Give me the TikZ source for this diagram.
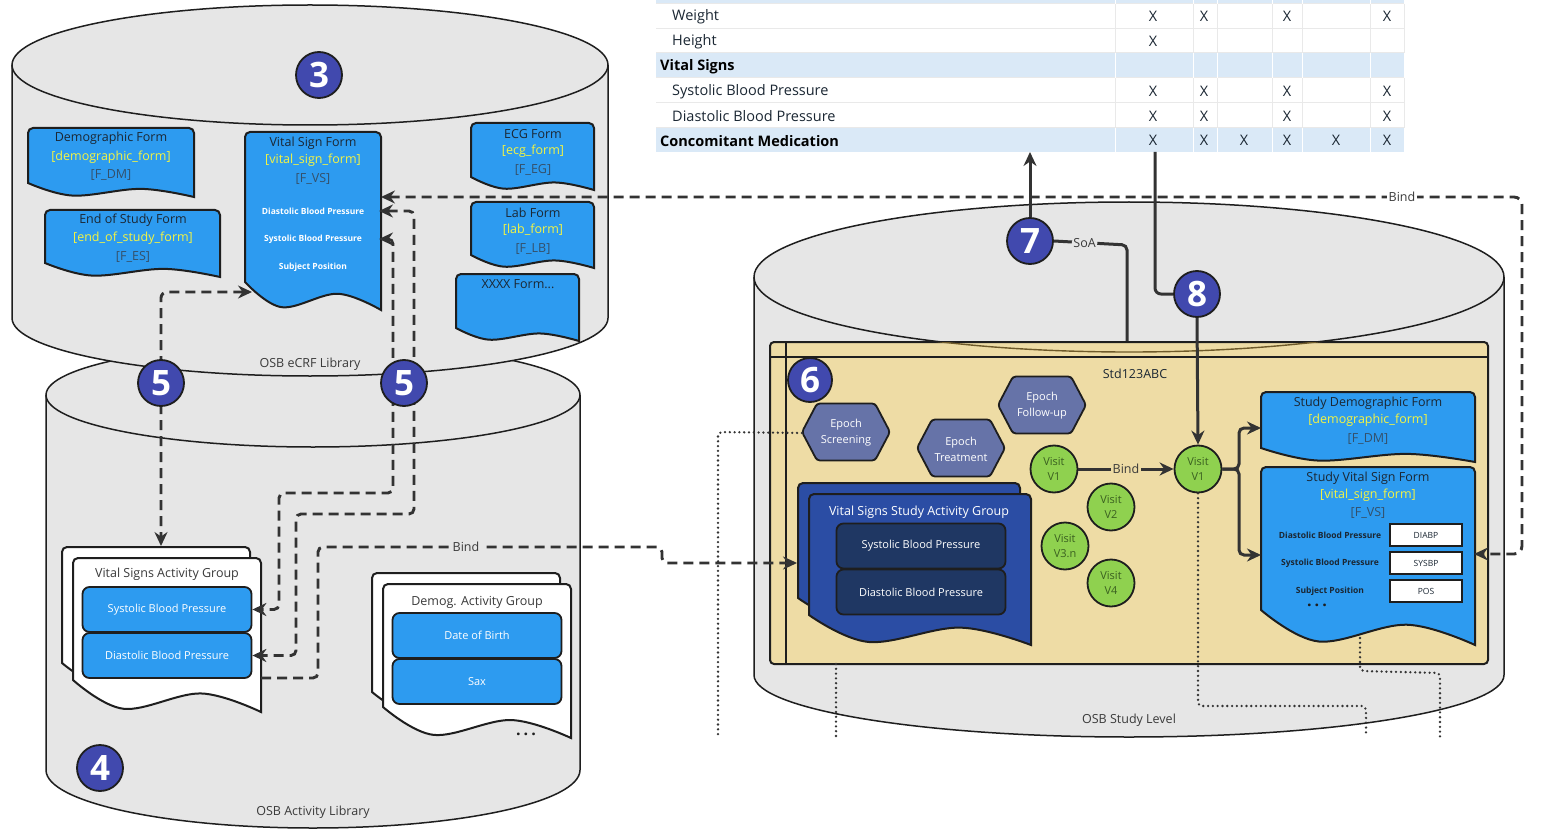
\documentclass[tikz,border=0pt]{standalone}
\usepackage{fontspec}
\setmainfont{Open Sans}
\usetikzlibrary{arrows.meta,shapes.geometric}
\definecolor{ink}{HTML}{1E1E1E}
\definecolor{linegray}{HTML}{333333}
\definecolor{cylfill}{HTML}{E6E6E6}
\definecolor{formblue}{HTML}{2D9BF0}
\definecolor{codeyellow}{HTML}{F4F442}
\definecolor{titletxt}{HTML}{1B2733}
\definecolor{codetxt}{HTML}{34506A}
\definecolor{badgeblue}{HTML}{4149AE}
\definecolor{epochfill}{HTML}{6673A8}
\definecolor{visitgreen}{HTML}{8FD14F}
\definecolor{visittxt}{HTML}{3A6020}
\definecolor{studyblue}{HTML}{2B4DA4}
\definecolor{navyfill}{HTML}{1F3763}
\definecolor{studytan}{HTML}{EEDCA5}
\definecolor{headblue}{HTML}{DAE9F7}
\definecolor{gridgray}{HTML}{E9E9E9}
\definecolor{labeltxt}{HTML}{3A3A3A}
\definecolor{arcbrown}{HTML}{6E5A2A}

\newcommand{\fz}[1]{\fontsize{#1}{#1}\selectfont}
% document shape: style, x0, ytop, x1, ybottom(left), amplitude
\newcommand{\docshape}[6]{%
  \pgfmathsetmacro{\dsw}{#4-#2}%
  \draw[#1] (#2,#5) [rounded corners=5pt]-- (#2,#3) -- (#4,#3) -- (#4,#5+#6) [sharp corners]
    -- plot[smooth,tension=0.6] coordinates {(#4,#5+#6) (#2+0.68*\dsw,#5+0.42*#6) (#2+0.27*\dsw,#5+0.9*#6) (#2,#5)} -- cycle;}
% cylinder: cx, rx, cy top, ry top, cy bottom, ry bottom
\newcommand{\cylinder}[6]{%
  \fill[cylfill] (#1-#2,#3) -- (#1-#2,#5) arc[start angle=180,end angle=360,x radius=#2pt,y radius=#6pt] -- (#1+#2,#3) -- cycle;
  \draw[ink,line width=1.5pt] (#1-#2,#3) -- (#1-#2,#5) arc[start angle=180,end angle=360,x radius=#2pt,y radius=#6pt] -- (#1+#2,#3);
  \filldraw[fill=cylfill,draw=ink,line width=1.5pt] (#1,#3) ellipse[x radius=#2pt,y radius=#4pt];}
% hexagon outline
\newcommand{\hexa}[2]{%
  \draw[fill=epochfill,draw=ink,line width=1.8pt,rounded corners=3pt] (#1-44,#2) -- (#1-29,#2-28.5) -- (#1+29,#2-28.5) -- (#1+44,#2) -- (#1+29,#2+28.5) -- (#1-29,#2+28.5) -- cycle;}

\begin{document}
\begin{tikzpicture}[x=1pt,y=-1pt,>={Stealth[length=14pt,width=13pt]},
 ftitle/.style={font=\fz{12.5},text=titletxt,inner sep=1pt},
 fcode/.style={font=\fz{12.5},text=codeyellow,inner sep=1pt},
 fref/.style={font=\fz{12.5},text=codetxt,inner sep=1pt},
 fitem/.style={font=\fz{8.5}\bfseries,text=white,inner sep=1pt},
 sitem/.style={font=\fz{8.5}\bfseries,text=titletxt,inner sep=1pt},
 formdoc/.style={fill=formblue,draw=ink,line width=2pt},
 whitedoc/.style={fill=white,draw=ink,line width=2pt},
 studydoc/.style={fill=studyblue,draw=ink,line width=2pt},
 actbox/.style={rectangle,rounded corners=7pt,fill=formblue,draw=ink,line width=1.8pt,text=white,font=\fz{11},minimum width=169pt,minimum height=45pt,inner sep=0pt},
 navyact/.style={actbox,fill=navyfill},
 badge/.style={circle,fill=badgeblue,draw=ink,line width=1.8pt,minimum size=46pt,inner sep=0pt,text=white,font=\fz{35}\bfseries},
 visit/.style={circle,fill=visitgreen,draw=ink,line width=1.8pt,minimum size=47pt,inner sep=0pt,text=visittxt,font=\fontsize{11}{15}\selectfont,align=center},
 epochtxt/.style={text=white,font=\fontsize{11}{16}\selectfont,align=center,minimum width=88pt,minimum height=57pt,inner sep=0pt},
 lbl/.style={font=\fz{12.5},text=labeltxt,inner sep=1.5pt},
 dashline/.style={draw=linegray,line width=2.9pt,dash pattern=on 10pt off 6pt},
 dotline/.style={draw=linegray,line width=2.6pt,dash pattern=on 0pt off 4.8pt,line cap=round},
 solidline/.style={draw=linegray,line width=3pt},
 valbox/.style={rectangle,fill=white,draw=ink,line width=1.6pt,minimum width=72pt,minimum height=22pt,inner sep=0pt,font=\fz{8.5},text=titletxt},
 trow/.style={font=\fz{14.5},text=titletxt,anchor=west,inner sep=0pt},
 thead/.style={font=\fz{14.5}\bfseries,text=black,anchor=west,inner sep=0pt},
 tx/.style={font=\fz{14.5},text=titletxt,inner sep=0pt},
]
\useasboundingbox (0,0) rectangle (1542,837);
\fill[white] (0,0) rectangle (1542,837);

% ---------- cylinders ----------
\cylinder{313}{267}{395}{52}{770}{58}
\cylinder{310}{298}{65}{60}{318}{58}
\cylinder{1129}{375}{277}{75}{675}{62}
\node[lbl] (lblecrf) at (310,364) {OSB eCRF Library};
\node[lbl] (lblact) at (313,812) {OSB Activity Library};
\node[lbl] (lblstudy) at (1129,720) {OSB Study Level};

% ---------- eCRF forms ----------
\docshape{formdoc}{28}{128}{194}{183}{14}
\node[ftitle] (dmt) at (111,138) {Demographic Form};
\node[fcode] (dmc) at (111,157) {[demographic\_form]};
\node[fref] (dmr) at (111,175) {[F\_DM]};

\docshape{formdoc}{45}{210}{220}{263}{14}
\node[ftitle] (est) at (133,220) {End of Study Form};
\node[fcode] (esc) at (133,238) {[end\_of\_study\_form]};
\node[fref] (esr) at (133,257) {[F\_ES]};

\docshape{formdoc}{245}{132}{381}{282}{28}
\node[ftitle] (vst) at (313,143) {Vital Sign Form};
\node[fcode] (vsc) at (313,160) {[vital\_sign\_form]};
\node[fref] (vsr) at (313,179) {[F\_VS]};
\node[fitem] (vsdia) at (313,211) {Diastolic Blood Pressure};
\node[fitem] (vssys) at (313,239) {Systolic Blood Pressure};
\node[fitem] (vspos) at (313,267) {Subject Position};
\coordinate (vsfbind) at (381,197);
\coordinate (vsfdia) at (379,211);
\coordinate (vsfsys) at (379,239);
\coordinate (vsfbl) at (252,292);

\docshape{formdoc}{471}{123}{594}{177}{13}
\node[ftitle] (ecgt) at (533,134) {ECG Form};
\node[fcode] (ecgc) at (533,151) {[ecg\_form]};
\node[fref] (ecgr) at (533,170) {[F\_EG]};

\docshape{formdoc}{471}{202}{594}{255}{13}
\node[ftitle] (labt) at (533,213) {Lab Form};
\node[fcode] (labc) at (533,230) {[lab\_form]};
\node[fref] (labr) at (533,249) {[F\_LB]};

\docshape{formdoc}{456}{274}{579}{328}{13}
\node[ftitle] (xxt) at (518,284) {XXXX Form...};

% ---------- activity groups ----------
\docshape{whitedoc}{62}{547}{250}{663}{30}
\docshape{whitedoc}{73}{558}{261}{680}{32}
\node[ftitle,text=labeltxt] (vsagt) at (167,574) {Vital Signs Activity Group};
\node[actbox] (vsagsys) at (167,609.5) {Systolic Blood Pressure};
\node[actbox] (vsagdia) at (167,655.5) {Diastolic Blood Pressure};
\coordinate (vsagtop) at (161,546);
\coordinate (vsagout) at (261,678);

\docshape{whitedoc}{372}{573}{560}{692}{30}
\docshape{whitedoc}{383}{584}{571}{707}{31}
\node[ftitle,text=labeltxt] (dagt) at (477,602) {Demog. Activity Group};
\node[actbox] (dagdob) at (477,635.5) {Date of Birth};
\node[actbox] (dagsax) at (477,681.5) {Sax};
\node[font=\fz{16}\bfseries,text=ink] (dots1) at (526,734) {.\hspace{3pt}.\hspace{3pt}.};

% ---------- table ----------
\fill[headblue] (656,0) rectangle (1404,4);
\fill[headblue] (656,53) rectangle (1404,78);
\fill[headblue] (656,128) rectangle (1404,152);
\foreach \yy in {4,28.5,53,78,103,128} \draw[gridgray,line width=1pt] (656,\yy) -- (1404,\yy);
\foreach \xx in {1115,1193,1217,1272,1302,1370} {
  \draw[gridgray,line width=1pt] (\xx,4) -- (\xx,53);
  \draw[gridgray,line width=1pt] (\xx,78) -- (\xx,128);
  \draw[white,line width=1pt] (\xx,0) -- (\xx,4);
  \draw[white,line width=1pt] (\xx,53) -- (\xx,78);
  \draw[white,line width=1pt] (\xx,128) -- (\xx,152);
}
\draw[gridgray,line width=1pt] (1404,4) -- (1404,53);
\draw[gridgray,line width=1pt] (1404,78) -- (1404,128);
\node[trow] (rw) at (672,17) {Weight};
\node[trow] (rh) at (672,42) {Height};
\node[thead] (rvs) at (660,67) {Vital Signs};
\node[trow] (rsys) at (672,91.5) {Systolic Blood Pressure};
\node[trow] (rdia) at (672,116.5) {Diastolic Blood Pressure};
\node[thead] (rcm) at (660,141) {Concomitant Medication};
\foreach \xx/\nm in {1153/a,1204/b,1287/d,1387/f} {
  \node[tx] (xw\nm) at (\xx,16.5) {X};
  \node[tx] (xs\nm) at (\xx,91) {X};
  \node[tx] (xd\nm) at (\xx,116) {X};
}
\node[tx] (xha) at (1153,41.5) {X};
\foreach \xx/\nm in {1153/a,1204/b,1244/c,1287/d,1336/e,1387/f}
  \node[tx] (xc\nm) at (\xx,140.5) {X};
\coordinate (tab7) at (1030,152);
\coordinate (tab8) at (1155,152);

% ---------- study box ----------
\node[draw=ink,fill=studytan,line width=2pt,rounded corners=4pt,minimum width=718pt,minimum height=322pt,inner sep=0pt,anchor=north west] (study) at (769,341) {};
\begin{scope}
  \clip (770,342) rectangle (1486,662);
  \draw[arcbrown,line width=1.4pt] (1129,277) ellipse[x radius=375pt,y radius=75pt];
\end{scope}
\draw[ink,line width=1.5pt] (769,357) -- (1487,357);
\draw[ink,line width=1.5pt] (786,341) -- (786,663);
\node[lbl,text=titletxt] (stdname) at (1135,374) {Std123ABC};

% epochs
\hexa{846}{432}
\node[epochtxt] (eps) at (846,433) {Epoch\\Screening};
\hexa{961}{448}
\node[epochtxt] (ept) at (961,449) {Epoch\\Treatment};
\hexa{1042}{405}
\node[epochtxt] (epf) at (1042,406) {Epoch\\Follow-up};

% study activity group
\docshape{studydoc}{798}{483}{1020}{598}{30}
\docshape{studydoc}{809}{494}{1031}{615}{30}
\node[ftitle,text=white] (vssagt) at (919,512) {Vital Signs Study Activity Group};
\node[navyact] (vssys) at (921,546) {Systolic Blood Pressure};
\node[navyact] (vsdiab) at (921,592) {Diastolic Blood Pressure};
\coordinate (vssagin) at (797,563);

% visits
\node[visit] (v1a) at (1054,469) {Visit\\V1};
\node[visit] (v2) at (1111,507) {Visit\\V2};
\node[visit] (v3) at (1065,546) {Visit\\V3.n};
\node[visit] (v4) at (1111,583) {Visit\\V4};
\node[visit] (v1b) at (1198,469) {Visit\\V1};

% study forms
\docshape{formdoc}{1261}{392}{1475}{448}{14}
\node[ftitle] (sdt) at (1368,403) {Study Demographic Form};
\node[fcode] (sdc) at (1368,420) {[demographic\_form]};
\node[fref] (sdr) at (1368,439) {[F\_DM]};
\coordinate (sdfw) at (1261,428);

\docshape{formdoc}{1261}{467}{1475}{610}{35}
\node[ftitle] (svt) at (1368,478) {Study Vital Sign Form};
\node[fcode] (svc) at (1368,495) {[vital\_sign\_form]};
\node[fref] (svr) at (1368,513) {[F\_VS]};
\node[sitem] (svdia) at (1330,535) {Diastolic Blood Pressure};
\node[sitem] (svsys) at (1330,563) {Systolic Blood Pressure};
\node[sitem] (svpos) at (1330,591) {Subject Position};
\node[valbox] (bdia) at (1426,535) {DIABP};
\node[valbox] (bsys) at (1426,563) {SYSBP};
\node[valbox] (bpos) at (1426,591) {POS};
\node[font=\fz{16}\bfseries,text=ink] (dots2) at (1317,605) {.\hspace{3pt}.\hspace{3pt}.};
\coordinate (svfw) at (1261,555);
\coordinate (svfe) at (1474,554);
\coordinate (svfb) at (1360,638);

% ---------- connectors ----------
% dotted
\coordinate (dotA) at (718,737);
\coordinate (dotB1) at (836,664);
\coordinate (dotB2) at (836,737);
\coordinate (dotC) at (1366,737);
\coordinate (dotD) at (1440,737);
\draw[dotline,rounded corners=4pt] (eps.west) -- (718,432) -- (dotA);
\draw[dotline] (dotB1) -- (dotB2);
\draw[dotline,rounded corners=4pt] (v1b.south) -- (1198,706) -- (1366,706) -- (dotC);
\draw[dotline,rounded corners=4pt] (svfb) -- (1360,671) -- (1440,673) -- (dotD);

% dashed
\draw[dashline,<->,rounded corners=8pt] (vsfbind) -- (1522,197) -- (1522,554) -- (svfe);
\node[lbl,fill=white] (bindtop) at (1402,197) {Bind};
\draw[dashline,<->,rounded corners=6pt] (vsfbl) -- (161,292) -- (vsagtop);
\draw[dashline,<->,rounded corners=5pt] (vsfsys) -- (393,239) -- (393,493) -- (279,493) -- (279,609.5) -- (vsagsys.east);
\draw[dashline,<->,rounded corners=5pt] (vsfdia) -- (414,211) -- (414,514) -- (296,514) -- (296,655.5) -- (vsagdia.east);
\draw[dashline,->,rounded corners=5pt] (vsagout) -- (318,678) -- (318,547) -- (662,547) -- (662,563) -- (vssagin);
\node[lbl,fill=cylfill] (bindbot) at (466,547) {Bind};

% solid
\draw[solidline,->] (v1a.east) -- node[lbl,fill=studytan] (bindv) {Bind} (v1b.west);
\draw[solidline,->,rounded corners=5pt] (v1b.east) -- (1239,469) |- (sdfw);
\draw[solidline,->,rounded corners=5pt] (v1b.east) -- (1239,469) |- (svfw);

% badges
\node[badge] (b3) at (319,75) {3};
\node[badge] (b5a) at (161,383) {5};
\node[badge] (b5b) at (404,383) {5};
\node[badge] (b4) at (100,768) {4};
\node[badge,minimum size=44pt] (b6) at (810,380) {6};
\node[badge] (b7) at (1030,241) {7};
\node[badge] (b8) at (1197,294) {8};

\draw[solidline,->] (b7.north) -- (tab7);
\draw[solidline,rounded corners=5pt] (b7.east) -- node[lbl,fill=cylfill,pos=0.42] (soa) {SoA} (1127,245) -- (1127,341);
\draw[solidline,rounded corners=6pt] (tab8) |- (b8.west);
\draw[solidline,->] (b8.south) -- (v1b.north);
\end{tikzpicture}
\end{document}
